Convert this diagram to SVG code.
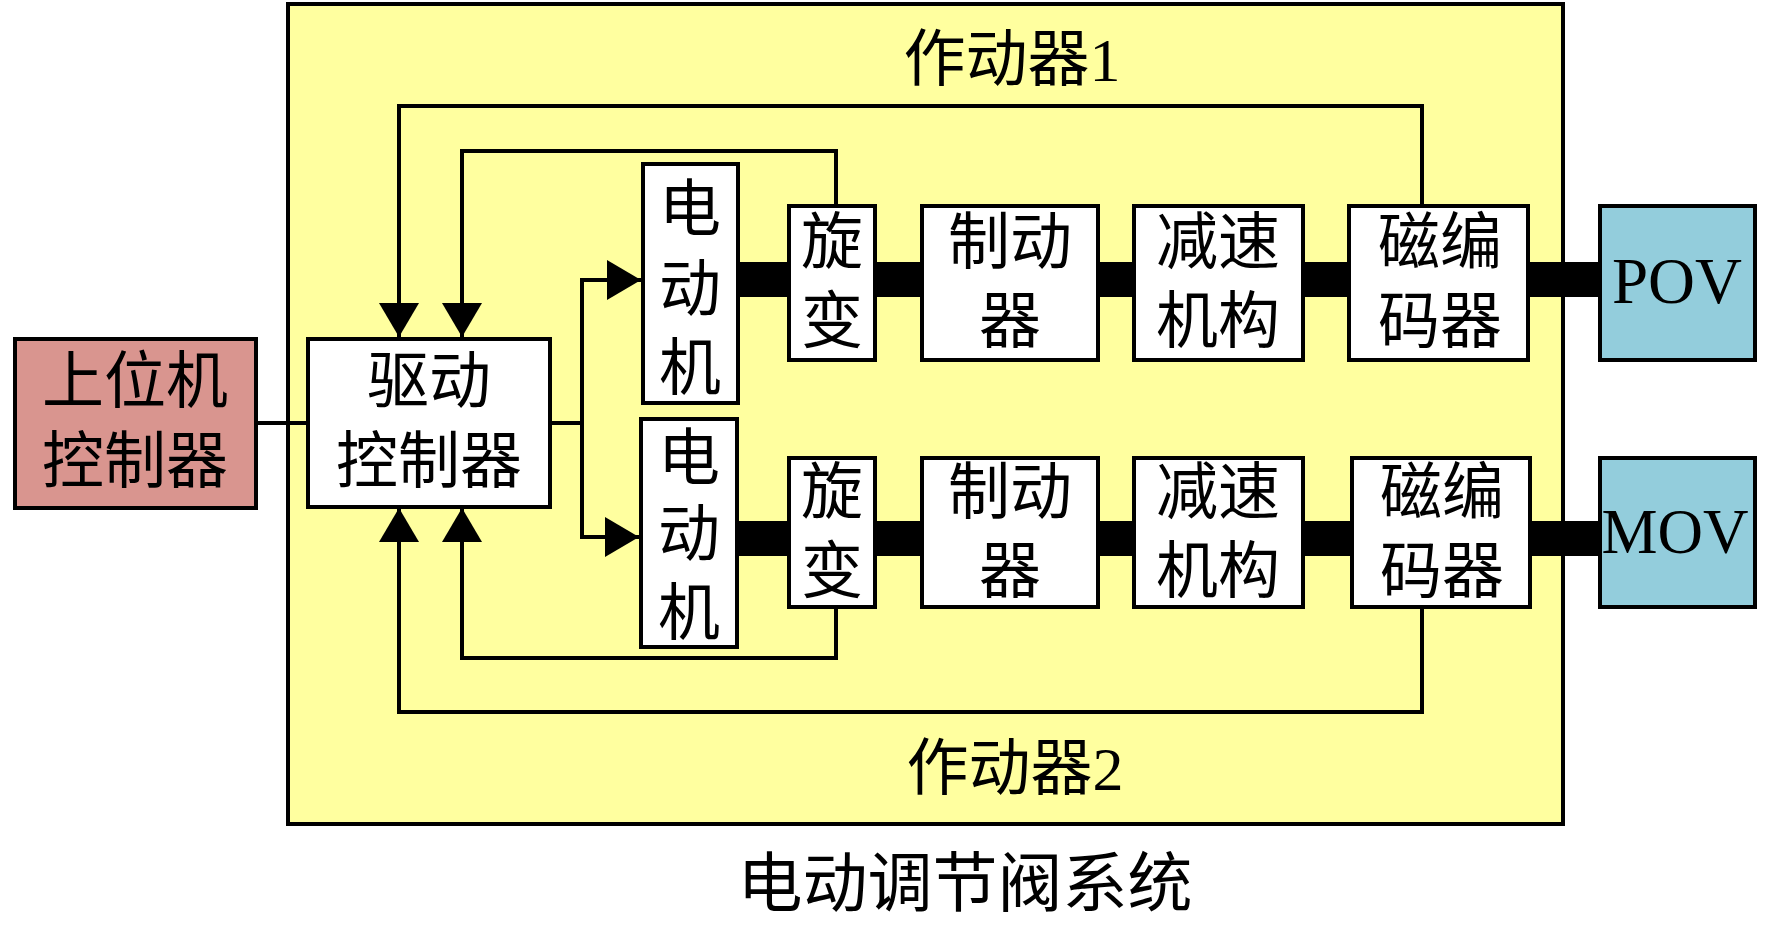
<svg xmlns="http://www.w3.org/2000/svg" width="1772" height="925" viewBox="0 0 1772 925">
<style>
.box{stroke:#000;stroke-width:4;fill:#fff}
.ln{fill:none;stroke:#000;stroke-width:4}
.t{font-family:"Liberation Serif","Noto Sans CJK SC",serif;font-size:62px;fill:#000;text-anchor:middle}
</style>
<defs>
<marker id="ah" markerUnits="userSpaceOnUse" markerWidth="34" markerHeight="40" refX="34" refY="20" orient="auto" viewBox="0 0 34 40">
<path d="M0,0 L34,20 L0,40 z" fill="#000"/>
</marker>
</defs>
<g id="system">
<rect x="288" y="4" width="1275" height="820" fill="#FFFF9F" stroke="#000" stroke-width="4"/>
<text class="t" x="1012" y="81">作动器1</text>
<text class="t" x="1015" y="790">作动器2</text>
<text class="t" x="965" y="906" style="font-size:65px">电动调节阀系统</text>
</g>
<g id="connectors">
<rect x="740" y="262" width="858" height="35" fill="#000"/>
<rect x="739" y="521" width="859" height="35" fill="#000"/>
<path class="ln" d="M256,423 H308"/>
<path class="ln" d="M550,423 H582"/>
<path class="ln" d="M582,423 V280 H641" marker-end="url(#ah)"/>
<path class="ln" d="M582,423 V537 H639" marker-end="url(#ah)"/>
<path class="ln" d="M1422,206 V106 H399 V337" marker-end="url(#ah)"/>
<path class="ln" d="M836,206 V151 H462 V337" marker-end="url(#ah)"/>
<path class="ln" d="M836,607 V658 H462 V508" marker-end="url(#ah)"/>
<path class="ln" d="M1422,607 V712 H399 V508" marker-end="url(#ah)"/>
</g>
<g id="host">
<rect class="box" x="15" y="339" width="241" height="169" fill="#D9958F" style="fill:#D9958F"/>
<text class="t" x="135" y="403">上位机</text>
<text class="t" x="135" y="483">控制器</text>
</g>
<g id="driver">
<rect class="box" x="308" y="339" width="242" height="168"/>
<text class="t" x="429" y="403">驱动</text>
<text class="t" x="429" y="483">控制器</text>
</g>
<g id="motor1">
<rect class="box" x="643" y="164" width="95" height="239"/>
<text class="t" x="690" y="231">电</text>
<text class="t" x="690" y="311">动</text>
<text class="t" x="690" y="390">机</text>
</g>
<g id="motor2">
<rect class="box" x="641" y="419" width="96" height="228"/>
<text class="t" x="689" y="480">电</text>
<text class="t" x="689" y="556">动</text>
<text class="t" x="689" y="635">机</text>
</g>
<g id="resolver1">
<rect class="box" x="789" y="206" width="86" height="154"/>
<text class="t" x="832" y="264">旋</text>
<text class="t" x="832" y="343">变</text>
</g>
<g id="resolver2">
<rect class="box" x="789" y="458" width="86" height="149"/>
<text class="t" x="832" y="514">旋</text>
<text class="t" x="832" y="593">变</text>
</g>
<g id="brake1">
<rect class="box" x="922" y="206" width="176" height="154"/>
<text class="t" x="1010" y="264">制动</text>
<text class="t" x="1010" y="343">器</text>
</g>
<g id="brake2">
<rect class="box" x="922" y="458" width="176" height="149"/>
<text class="t" x="1010" y="514">制动</text>
<text class="t" x="1010" y="593">器</text>
</g>
<g id="reducer1">
<rect class="box" x="1134" y="206" width="169" height="154"/>
<text class="t" x="1218" y="264">减速</text>
<text class="t" x="1218" y="343">机构</text>
</g>
<g id="reducer2">
<rect class="box" x="1134" y="458" width="169" height="149"/>
<text class="t" x="1218" y="514">减速</text>
<text class="t" x="1218" y="593">机构</text>
</g>
<g id="encoder1">
<rect class="box" x="1349" y="206" width="179" height="154"/>
<text class="t" x="1440" y="264">磁编</text>
<text class="t" x="1440" y="343">码器</text>
</g>
<g id="encoder2">
<rect class="box" x="1352" y="458" width="178" height="149"/>
<text class="t" x="1442" y="514">磁编</text>
<text class="t" x="1442" y="593">码器</text>
</g>
<g id="pov">
<rect class="box" x="1600" y="206" width="155" height="154" style="fill:#93CDDC"/>
<text class="t" x="1677" y="303" style="font-size:65px">POV</text>
</g>
<g id="mov">
<rect class="box" x="1600" y="458" width="155" height="149" style="fill:#93CDDC"/>
<text class="t" x="1675" y="553" style="font-size:63px">MOV</text>
</g>
</svg>
